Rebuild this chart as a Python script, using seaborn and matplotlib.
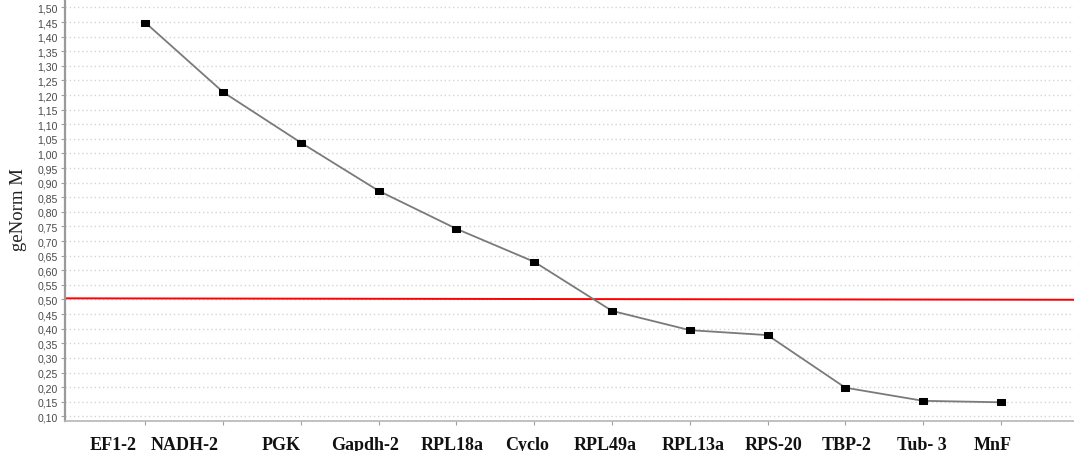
import matplotlib
matplotlib.use("Agg")
import matplotlib.pyplot as plt
import matplotlib.transforms as mtransforms
from matplotlib.path import Path
import numpy as np
import pandas as pd
import seaborn as sns

# geNorm average expression stability (M) per reference gene
genes = ["EF1-2", "NADH-2", "PGK", "Gapdh-2", "RPL18a", "Cyclo",
         "RPL49a", "RPL13a", "RPS-20", "TBP-2", "Tub- 3", "MnF"]
m_values = [1.448, 1.210, 1.037, 0.872, 0.742, 0.629,
            0.461, 0.395, 0.378, 0.198, 0.153, 0.148]

# stability cut-off line (ends of the red reference line)
cutoff_x = [-1.04, 11.94]
cutoff_m = [0.504, 0.499]

y_ticks = np.round(np.arange(0.10, 1.501, 0.05), 2)

# horizontal nudge of each category label relative to its tick (data units)
label_shift = [-0.42, -0.49, -0.25, -0.18, -0.06, -0.09,
               -0.09, 0.04, 0.07, 0.02, -0.02, -0.10]

sns.set_theme(style="white")
plt.rcParams["font.family"] = ["Liberation Sans", "DejaVu Sans"]

fig = plt.figure(figsize=(10.74, 4.52), dpi=100)
ax = fig.add_axes([64.5 / 1074, 29.7 / 452, 1 - 64.5 / 1074, 1 - 29.7 / 452])

df = pd.DataFrame({"pos": np.arange(len(genes)), "M": m_values, "gene": genes})

# slightly wide rectangular marker
rect = Path([(-1.4, -1), (1.4, -1), (1.4, 1), (-1.4, 1), (-1.4, -1)],
            [Path.MOVETO, Path.LINETO, Path.LINETO, Path.LINETO, Path.CLOSEPOLY])

sns.lineplot(data=df, x="pos", y="M", ax=ax, color="#7a7a7a", linewidth=1.3,
             marker=rect, markersize=5.6, markerfacecolor="black",
             markeredgecolor="black", zorder=3)

ax.plot(cutoff_x, cutoff_m, color="#ff0000", linewidth=1.4, zorder=2)

ax.set_xlim(-1.04, 11.94)
ax.set_ylim(0.0829, 1.529)

ax.set_yticks(y_ticks)
ax.set_yticklabels([f"{v:.2f}".replace(".", ",") for v in y_ticks],
                   fontsize=7.6, color="#4a4a4a")
ax.yaxis.grid(True, color="#d4d4d4", linestyle=(0, (1, 2)), linewidth=1.0)
ax.xaxis.grid(False)
ax.set_axisbelow(True)

ax.set_xticks(np.arange(len(genes)))
ax.set_xticklabels([""] * len(genes))
ax.tick_params(axis="both", which="both", length=3, width=0.8,
               color="#a0a0a0", direction="out", pad=2)
ax.tick_params(axis="y", left=True)
ax.tick_params(axis="x", bottom=True)

trans = mtransforms.blended_transform_factory(ax.transData, ax.transAxes)
for i, (g, s) in enumerate(zip(genes, label_shift)):
    ax.text(i + s, -0.0656, g, transform=trans, ha="center", va="baseline",
            fontsize=13, fontweight="bold", family=["Liberation Serif", "DejaVu Serif"],
            color="#111111")

ax.set_xlabel("")
ax.set_ylabel("geNorm M", fontsize=13.5, family=["Liberation Serif", "DejaVu Serif"],
              color="#222222", va="center")
ax.yaxis.set_label_coords(-0.046, 0.503)

for side in ["top", "right"]:
    ax.spines[side].set_visible(False)
ax.spines["left"].set_color("#9a9a9a")
ax.spines["left"].set_linewidth(1.6)
ax.spines["bottom"].set_color("#b5b5b5")
ax.spines["bottom"].set_linewidth(1.2)

fig.savefig("out.png", dpi=100)
